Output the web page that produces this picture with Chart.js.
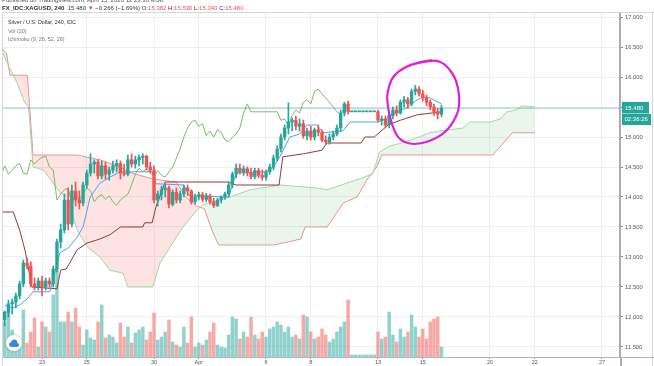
<!DOCTYPE html>
<html>
<head>
<meta charset="utf-8">
<script src="https://cdn.jsdelivr.net/npm/chart.js@4.4.1/dist/chart.umd.min.js"></script>
<style>
html,body{margin:0;padding:0;background:#fff;}
#wrap{position:relative;width:654px;height:366px;overflow:hidden;font-family:"Liberation Sans",Arial,sans-serif;}
#c{position:absolute;left:0;top:0;}
.t{position:absolute;white-space:nowrap;line-height:1;}
.r{color:#ef5350;}
</style>
</head>
<body>
<div id="wrap">
<canvas id="c" width="654" height="366"></canvas>
<div class="t" style="left:2px;top:-3px;font-size:6px;color:#555;">Published on TradingView.com, April 15, 2020 12:23:36 MSK</div>
<div class="t" style="left:2px;top:5px;font-size:6px;color:#333;"><b>FX_IDC:XAGUSD, 240</b>&nbsp; 15.480 <span class="r">▼</span> −0.266 (−1.69%) O:<span class="r">15.382</span> H:<span class="r">15.530</span> L:<span class="r">15.340</span> C:<span class="r">15.480</span></div>
<div class="t" style="left:8px;top:20px;font-size:5.4px;color:#333;">Silver / U.S. Dollar, 240, IDC</div>
<div class="t" style="left:8px;top:28.5px;font-size:5.4px;color:#777;">Vol (20)</div>
<div class="t" style="left:8px;top:37px;font-size:5.4px;color:#777;">Ichimoku (9, 26, 52, 26)</div>
</div>
<script>
// ---------------- data ----------------
const FIRST_BAR = -10;          // bar index of first candle (0 = Mar 23 00:00)
const LAG = 26;                 // lagging span displacement
const opens = [
 11.95,12.08,12.22,12.25,12.35,12.55,12.90,12.85,12.55,12.50,
 12.60,12.50,12.60,12.55,12.80,13.25,13.45,13.95,13.55,14.10,
 13.95,13.90,14.20,14.40,14.55,14.58,14.35,14.52,14.38,14.45,
 14.52,14.56,14.40,14.38,14.62,14.55,14.62,14.66,14.68,14.50,
 14.45,13.95,14.05,14.12,14.15,13.88,14.08,13.95,14.05,14.15,
 14.10,13.92,14.00,14.04,13.96,14.02,13.92,13.86,13.95,14.00,
 14.05,14.20,14.38,14.48,14.42,14.47,14.40,14.34,14.44,14.36,
 14.33,14.42,14.50,14.65,14.80,15.00,15.15,15.25,15.28,15.18,
 15.22,15.02,15.10,15.00,15.12,15.08,14.95,14.92,15.00,15.05,
 15.15,15.40,15.55,15.42,15.42,15.42,15.42,15.42,15.42,15.42,
 15.42,15.28,15.30,15.20,15.36,15.45,15.40,15.58,15.62,15.55,
 15.76,15.80,15.72,15.65,15.58,15.50,15.42,15.382];
const highs = [
 12.10,12.28,12.30,12.40,12.60,12.95,12.98,12.92,12.65,12.65,
 12.68,12.65,12.65,12.85,13.30,13.55,14.05,14.15,14.20,14.25,
 14.10,14.25,14.45,14.72,14.62,14.62,14.60,14.58,14.50,14.60,
 14.62,14.60,14.55,14.70,14.72,14.68,14.70,14.72,14.70,14.58,
 14.52,14.10,14.18,14.22,14.18,14.12,14.15,14.10,14.20,14.20,
 14.12,14.05,14.08,14.08,14.06,14.05,13.98,13.98,14.02,14.08,
 14.25,14.42,14.55,14.55,14.52,14.50,14.48,14.48,14.48,14.45,
 14.45,14.55,14.70,14.85,15.05,15.20,15.57,15.32,15.35,15.30,
 15.28,15.15,15.18,15.15,15.20,15.12,15.02,15.05,15.10,15.20,
 15.45,15.58,15.60,15.42,15.42,15.42,15.42,15.42,15.42,15.42,
 15.45,15.35,15.35,15.40,15.50,15.52,15.62,15.68,15.66,15.80,
 15.86,15.84,15.78,15.70,15.62,15.55,15.48,15.530];
const lows = [
 11.85,12.00,12.05,12.15,12.30,12.50,12.80,12.50,12.45,12.45,
 12.35,12.45,12.50,12.50,12.75,13.15,13.40,13.45,13.50,13.85,
 13.80,13.85,14.15,14.35,14.40,14.30,14.30,14.30,14.28,14.40,
 14.42,14.30,14.35,14.35,14.50,14.48,14.52,14.55,14.45,14.40,
 13.90,13.85,13.95,14.00,13.82,13.85,13.90,13.90,14.00,14.02,
 13.88,13.88,13.95,13.92,13.92,13.88,13.82,13.84,13.90,13.96,
 14.00,14.15,14.32,14.38,14.36,14.35,14.30,14.30,14.32,14.28,
 14.28,14.38,14.45,14.60,14.75,14.95,15.05,15.10,15.12,15.10,
 14.98,14.95,14.95,14.95,15.02,14.92,14.88,14.88,14.95,15.02,
 15.10,15.35,15.38,15.42,15.42,15.42,15.42,15.42,15.42,15.42,
 15.25,15.20,15.15,15.15,15.30,15.35,15.38,15.50,15.48,15.52,
 15.70,15.68,15.60,15.52,15.45,15.36,15.30,15.340];
const closes = [
 12.08,12.22,12.25,12.35,12.55,12.90,12.85,12.55,12.50,12.60,
 12.50,12.60,12.55,12.80,13.25,13.45,13.95,13.55,14.10,13.95,
 13.90,14.20,14.40,14.55,14.58,14.35,14.52,14.38,14.45,14.52,
 14.56,14.40,14.38,14.62,14.55,14.62,14.66,14.68,14.50,14.45,
 13.95,14.05,14.12,14.15,13.88,14.08,13.95,14.05,14.15,14.10,
 13.92,14.00,14.04,13.96,14.02,13.92,13.86,13.95,14.00,14.05,
 14.20,14.38,14.48,14.42,14.47,14.40,14.34,14.44,14.36,14.33,
 14.42,14.50,14.65,14.80,15.00,15.15,15.25,15.28,15.18,15.22,
 15.02,15.10,15.00,15.12,15.08,14.95,14.92,15.00,15.05,15.15,
 15.40,15.55,15.42,15.42,15.42,15.42,15.42,15.42,15.42,15.42,
 15.28,15.30,15.20,15.36,15.45,15.40,15.58,15.62,15.55,15.76,
 15.80,15.72,15.65,15.58,15.50,15.42,15.38,15.480];
const volumes = [
 35,47,27,10,17,47,14,25,39,10,
 35,30,25,62,87,35,35,45,35,49,
 30,12,27,19,17,35,52,19,22,20,
 14,34,20,30,14,24,27,30,17,25,
 44,17,20,25,37,15,12,10,30,14,
 40,10,14,12,17,25,34,12,10,9,
 22,40,38,18,25,20,40,22,18,25,
 20,28,30,35,32,25,30,20,22,18,
 42,40,25,18,20,28,22,15,18,25,
 30,35,57,2,2,2,2,2,2,2,
 25,18,20,45,22,15,28,20,25,42,
 30,20,28,18,35,38,40,10];
// Ichimoku lines: [bar index, price]
const tenkan = [[-10,12.2],[-8,12.15],[-6,12.2],[-4,12.3],[-2.4,12.42],[2.1,12.42],[4.8,13.07],[7,13.15],[9.4,13.33],[11,13.5],[12.9,14.0],[15.5,14.23],[18.2,14.33],[20.9,14.42],[29.5,14.42],[30.5,14.22],[38,14.2],[39.5,14.02],[50,14.0],[51,14.2],[52,14.4],[60,14.42],[62,14.5],[64,14.7],[66.4,15.0],[69,15.05],[71,15.2],[73.7,15.2],[75.3,15.07],[80.6,15.1],[82.5,15.25],[90,15.25],[92,15.3],[94,15.37],[98,15.5],[100,15.6],[102,15.67],[104,15.65],[107,15.55]];
const kijun = [[-10.45,13.75],[-7.7,13.75],[-6,13.45],[-4.5,13.1],[-2.7,12.5],[4,12.47],[5,12.78],[6.5,12.8],[9.4,13.12],[12,13.23],[15.5,13.3],[18.2,13.37],[21,13.5],[27,13.5],[27.5,13.57],[29.5,13.57],[30.5,13.83],[33,14.25],[50,14.25],[52,14.2],[63.5,14.2],[64.5,14.67],[70,14.72],[75,14.78],[76.3,14.9],[85.5,14.9],[86.5,15.0],[89,15.0],[92.7,15.2],[96,15.28],[100.5,15.37],[104.5,15.4],[107,15.42]];
const spanA = [[-10.45,16.4],[-9.7,16.28],[-6.7,15.9],[-4.6,15.57],[-3.6,15.5],[-2.4,14.5],[0.3,14.45],[3,14.23],[4.9,14.07],[6.7,14.0],[9.4,13.45],[12.1,13.17],[15.5,13.0],[18.2,12.78],[21.7,12.73],[23,12.5],[29.7,12.5],[31.6,12.9],[36,13.33],[37.8,13.5],[41.5,13.78],[43.1,13.87],[50.4,14.0],[55.7,14.12],[63.8,14.2],[73.7,14.15],[76.4,14.12],[82.5,14.25],[86,14.32],[88.7,14.4],[90.4,14.75],[93.2,14.85],[97.5,14.92],[101,15.0],[103.8,15.07],[106.5,15.1],[112.8,15.15],[114.6,15.25],[120,15.25],[122.7,15.3],[124.5,15.42],[127,15.45],[128.6,15.52],[132,15.5]];
const spanB = [[-10.45,16.45],[-9.5,16.4],[-8.6,16.03],[-3.9,16.03],[-2.4,14.7],[9.4,14.7],[15.5,14.62],[20.9,14.5],[24,14.4],[29.7,14.3],[36,14.25],[38.5,14.0],[41.5,13.85],[43.5,13.8],[45.5,13.45],[47.3,13.2],[62,13.2],[66,13.25],[69.3,13.3],[70.5,13.5],[76.4,13.5],[80.7,13.9],[84.4,14.0],[87,14.28],[89.7,14.5],[91,14.7],[120.8,14.7],[126,15.07],[132,15.07]];
const priceTicks = [11.5,12.0,12.5,13.0,13.5,14.0,14.5,15.0,15.5,16.0,16.5,17.0];
const dateTickPos = [0,12,30,42,60,72,90,102,120,132,150];
const dateTickLabels = ['23','25','30','Apr','6','8','13','15','20','22','27'];
const barCountdown = '02:36:26';
// hand-drawn highlight loop (bar index, price)
const markerLoop = [[98.5,16.2],[102.5,16.26],[105.8,16.28],[108.3,16.2],[111.2,15.95],[112.1,15.5],[109.8,15.2],[106.6,15.0],[100.5,14.86],[95.9,14.93],[93.8,15.17],[92.2,15.62],[93.0,15.87],[94.2,16.03],[97.2,16.17],[101.3,16.25],[104.2,16.28]];

// ---------------- view ----------------
const X_MIN = -10.45, X_MAX = 154.83, Y_MIN = 11.333, Y_MAX = 17.067;
const UP = '#26a69a', DN = '#ef5350';
const FONT = '"Liberation Sans", Arial, sans-serif';

const idx = closes.map((_, k) => FIRST_BAR + k);
const isUp = closes.map((c, k) => c >= opens[k]);
const candleCol = isUp.map(u => u ? UP : DN);
const volCol = isUp.map(u => u ? 'rgba(38,166,154,0.5)' : 'rgba(239,83,80,0.5)');
const pts = a => a.map(([x, y]) => ({x, y}));
const lastClose = closes[closes.length - 1];

const datasets = [];
datasets.push({type:'bar', label:'Volume', yAxisID:'yv', order:10,
  data: idx.map((x, k) => ({x, y: volumes[k]})),
  backgroundColor: volCol, barThickness: 2.8, grouped: false});
const iSpanB = datasets.length;
datasets.push({type:'line', label:'Lead 2', order:9, data: pts(spanB),
  borderColor:'#ef9a9a', borderWidth:1, pointRadius:0, fill:false, tension:0});
datasets.push({type:'line', label:'Lead 1', order:8, data: pts(spanA),
  borderColor:'#a5d6a7', borderWidth:1, pointRadius:0, tension:0,
  fill:{target:iSpanB, above:'rgba(67,160,71,0.11)', below:'rgba(244,67,54,0.15)'}});
datasets.push({type:'line', label:'Lagging', order:7,
  data: idx.map((x, k) => ({x: x - LAG, y: closes[k]})),
  borderColor:'#7cba6e', borderWidth:1, pointRadius:0, fill:false, tension:0});
datasets.push({type:'line', label:'Base', order:6, data: pts(kijun),
  borderColor:'#93393c', borderWidth:1, pointRadius:0, fill:false, tension:0});
datasets.push({type:'line', label:'Conversion', order:5, data: pts(tenkan),
  borderColor:'#4ea4ef', borderWidth:1, pointRadius:0, fill:false, tension:0});
datasets.push({type:'line', label:'Last', order:4,
  data: [{x:X_MIN, y:lastClose}, {x:X_MAX, y:lastClose}],
  borderColor:'rgba(38,166,154,0.5)', borderWidth:1, pointRadius:0, fill:false});
datasets.push({type:'bar', label:'Wicks', order:2,
  data: idx.map((x, k) => ({x, y:[lows[k], highs[k]]})),
  backgroundColor: candleCol, barThickness: 1, grouped: false});
datasets.push({type:'bar', label:'Bodies', order:1,
  data: idx.map((x, k) => ({x, y:[opens[k], closes[k]]})),
  backgroundColor: candleCol, barThickness: 2.7, minBarLength: 1, grouped: false});

const deco = {
  id: 'deco',
  beforeDraw(chart) {
    const c = chart.ctx;
    c.save(); c.fillStyle = '#fff'; c.fillRect(0, 0, chart.width, chart.height); c.restore();
  },
  afterDatasetsDraw(chart) {
    const c = chart.ctx, sx = chart.scales.x, sy = chart.scales.y;
    const p = markerLoop.map(([i, v]) => [sx.getPixelForValue(i), sy.getPixelForValue(v)]);
    c.save();
    c.strokeStyle = '#e01ee0'; c.lineWidth = 2.2; c.lineCap = 'round'; c.lineJoin = 'round';
    c.beginPath();
    c.moveTo(p[0][0], p[0][1]);
    for (let k = 1; k < p.length - 1; k++) {
      const mx = (p[k][0] + p[k+1][0]) / 2, my = (p[k][1] + p[k+1][1]) / 2;
      c.quadraticCurveTo(p[k][0], p[k][1], mx, my);
    }
    c.lineTo(p[p.length-1][0], p[p.length-1][1]);
    c.stroke();
    c.restore();
  },
  afterDraw(chart) {
    const c = chart.ctx, a = chart.chartArea, sy = chart.scales.y;
    c.save();
    // frame
    c.strokeStyle = '#d3d6dc'; c.lineWidth = 1;
    c.beginPath();
    c.moveTo(a.left - 0.5, a.top - 0.5); c.lineTo(chart.width, a.top - 0.5);
    c.moveTo(a.left - 0.5, a.top - 0.5); c.lineTo(a.left - 0.5, chart.height);
    c.moveTo(chart.width - 1.5, a.top); c.lineTo(chart.width - 1.5, chart.height);
    c.stroke();
    c.strokeStyle = '#b2b5be';
    c.beginPath(); c.moveTo(a.right, a.bottom + 0.5); c.lineTo(chart.width, a.bottom + 0.5); c.stroke();
    c.strokeStyle = '#a9acb4'; c.lineWidth = 2;
    c.beginPath(); c.moveTo(a.right + 1, a.bottom); c.lineTo(a.right + 1, chart.height); c.stroke();
    // price tag
    const y = Math.round(sy.getPixelForValue(lastClose));
    const x0 = a.right + 2;
    c.fillStyle = UP;
    c.fillRect(x0, y - 6, 27, 11.5);
    c.fillRect(x0, y + 6, 29, 11);
    c.fillStyle = '#fff';
    c.font = '6px ' + FONT; c.textBaseline = 'middle'; c.textAlign = 'left';
    c.fillText(lastClose.toFixed(3), x0 + 3, y);
    c.fillText(barCountdown, x0 + 2.5, y + 11.7);
    // logo
    c.shadowColor = 'rgba(0,0,0,0.25)'; c.shadowBlur = 3;
    c.fillStyle = '#fff';
    c.beginPath(); c.arc(14, 343, 8, 0, Math.PI * 2); c.fill();
    c.shadowBlur = 0;
    c.fillStyle = '#3a86e0';
    [[11.3, 344.6, 2.3], [14.3, 342.4, 3], [17, 344.9, 2]].forEach(([cx, cy, r]) => {
      c.beginPath(); c.arc(cx, cy, r, 0, Math.PI * 2); c.fill();
    });
    c.fillRect(11.3, 344.6, 5.7, 2.3);
    c.restore();
  }
};

new Chart(document.getElementById('c'), {
  type: 'bar',
  data: { datasets },
  plugins: [deco],
  options: {
    responsive: false,
    animation: false,
    events: [],
    layout: { padding: { top: 13, left: 3, right: 0, bottom: 0 } },
    plugins: { legend: { display: false }, tooltip: { enabled: false }, filler: { propagate: false } },
    scales: {
      x: {
        type: 'linear', min: X_MIN, max: X_MAX, offset: false,
        afterBuildTicks: s => { s.ticks = dateTickPos.map(v => ({ value: v })); },
        afterFit: s => { s.height = 9; },
        ticks: { autoSkip: false, maxRotation: 0, padding: 0, color: '#555',
                 font: { size: 5.5, family: FONT },
                 callback: (v, i) => dateTickLabels[i] },
        grid: { color: '#eef0f3', offset: false, tickLength: 2, tickColor: '#999' },
        border: { display: true, color: '#b2b5be', width: 1 }
      },
      y: {
        type: 'linear', position: 'right', min: Y_MIN, max: Y_MAX,
        afterBuildTicks: s => { s.ticks = priceTicks.map(v => ({ value: v })); },
        afterFit: s => { s.width = 34; },
        ticks: { padding: 2, color: '#555', font: { size: 5.8, family: FONT },
                 callback: v => Number(v).toFixed(3) },
        grid: { color: '#eef0f3', tickLength: 3, tickColor: '#888' },
        border: { display: true, color: '#a9acb4', width: 2 }
      },
      yv: { type: 'linear', display: false, min: 0, max: 344 }
    }
  }
});
</script>
</body>
</html>
